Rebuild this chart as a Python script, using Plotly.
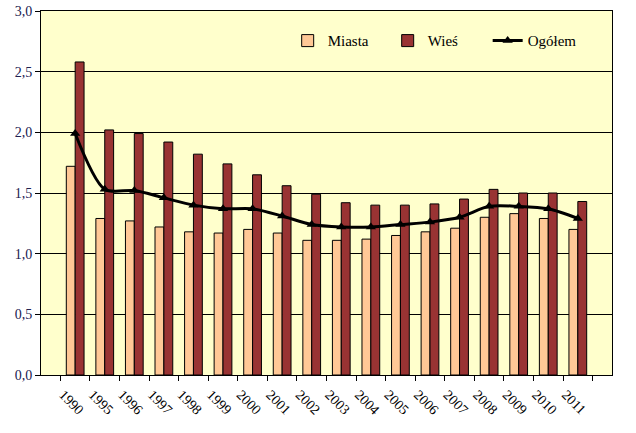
import plotly.graph_objects as go

years = ["1990", "1995", "1996", "1997", "1998", "1999", "2000", "2001", "2002",
         "2003", "2004", "2005", "2006", "2007", "2008", "2009", "2010", "2011"]
miasta = [1.72, 1.29, 1.27, 1.22, 1.18, 1.17, 1.20, 1.17, 1.11,
          1.11, 1.12, 1.15, 1.18, 1.21, 1.30, 1.33, 1.29, 1.20]
wies = [2.58, 2.02, 1.99, 1.92, 1.82, 1.74, 1.65, 1.56, 1.49,
        1.42, 1.40, 1.40, 1.41, 1.45, 1.53, 1.50, 1.50, 1.43]
ogolem = [1.99, 1.53, 1.52, 1.46, 1.40, 1.37, 1.37, 1.31, 1.24,
          1.22, 1.22, 1.24, 1.26, 1.30, 1.39, 1.39, 1.37, 1.29]
y_ticks = [0.0, 0.5, 1.0, 1.5, 2.0, 2.5, 3.0]

FONT = "Times New Roman, Liberation Serif, serif"

fig = go.Figure()
fig.add_trace(go.Bar(
    x=years, y=miasta, name="Miasta",
    marker=dict(color="#FFC896", line=dict(color="black", width=1)),
))
fig.add_trace(go.Bar(
    x=years, y=wies, name="Wieś",
    marker=dict(color="#993333", line=dict(color="black", width=1)),
))
fig.add_trace(go.Scatter(
    x=years, y=ogolem, name="Ogółem", mode="lines+markers",
    line=dict(color="black", width=3, shape="spline", smoothing=0.8),
    marker=dict(symbol="triangle-up", size=9, color="black"),
))

fig.update_layout(
    width=636, height=433,
    margin=dict(l=41, r=24, t=11, b=58, autoexpand=False),
    paper_bgcolor="white",
    plot_bgcolor="#FFFFCC",
    barmode="group",
    bargap=0.40,
    bargroupgap=0,
    separators=", ",
    font=dict(family=FONT, size=13, color="black"),
    showlegend=True,
    legend=dict(
        orientation="h", x=0.432, y=0.918, xanchor="left", yanchor="middle",
        bgcolor="rgba(0,0,0,0)", font=dict(family=FONT, size=15, color="black"),
        entrywidth=55, traceorder="normal", itemwidth=30,
    ),
)
fig.update_xaxes(
    type="category",
    showline=True, linecolor="black", linewidth=1, mirror=True,
    ticks="outside", tickson="boundaries", ticklen=5, tickcolor="black",
    tickangle=45, showgrid=False,
    ticklabelshift=-12, ticklabelstandoff=5,
    tickfont=dict(family=FONT, size=14, color="black"),
)
fig.update_yaxes(
    range=[0, 3.0], tickvals=y_ticks, tickformat=".1f",
    showline=True, linecolor="black", linewidth=1, mirror=True,
    ticks="outside", ticklen=5, tickcolor="black",
    showgrid=True, gridcolor="black", gridwidth=1,
    zeroline=False,
    tickfont=dict(family=FONT, size=14, color="#202050"),
)

fig.write_html("out.html", config={"displayModeBar": False},
               post_script="document.body.style.margin='0';document.body.style.padding='0';")
